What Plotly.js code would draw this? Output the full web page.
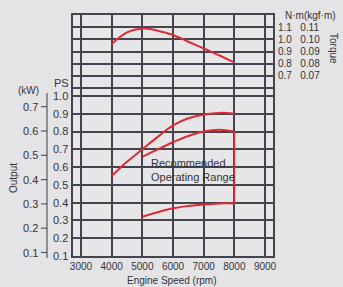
<!DOCTYPE html>
<html>
<head>
<meta charset="utf-8">
<script src="https://cdn.plot.ly/plotly-3.0.1.min.js"></script>
<style>
html,body{margin:0;padding:0;background:#e4e4e6;}
#chart{width:343px;height:287px;}
</style>
</head>
<body>
<div id="chart"></div>
<script>
// ---- data ----
const rpmTorque   = [4000, 4500, 5000, 5500, 6000, 6500, 7000, 7500, 8000];
const torqueNm    = [0.962, 1.058, 1.09, 1.071, 1.036, 0.98, 0.926, 0.869, 0.811];

const rpmMaxOut   = [4000, 4500, 5000, 5500, 6000, 6500, 7000, 7500, 8000];
const maxOutputPS = [0.55, 0.63, 0.70, 0.77, 0.835, 0.875, 0.895, 0.905, 0.90];

const rpmRange    = [5000, 5500, 6000, 6500, 7000, 7500, 8000];
const rangeUpper  = [0.658, 0.70, 0.74, 0.775, 0.80, 0.81, 0.80];
const rangeLower  = [0.321, 0.346, 0.368, 0.381, 0.39, 0.396, 0.396];

const rpmTicks    = [3000, 4000, 5000, 6000, 7000, 8000, 9000];
const psTicks     = [0.1, 0.2, 0.3, 0.4, 0.5, 0.6, 0.7, 0.8, 0.9, 1.0];
const kwTicks     = [0.1, 0.2, 0.3, 0.4, 0.5, 0.6, 0.7];
const torqueTicks = [0.6, 0.7, 0.8, 0.9, 1.0, 1.1];
const torqueKgfTicks = ['', '0.07', '0.08', '0.09', '0.10', '0.11'];

// kW scale as printed next to the PS scale (about 1.37 PS per kW on the sheet)
const kwToPs = k => 0.1 + (k - 0.0856) * 1.3667;

// ---- styling ----
const RED = '#dd2a35';
const GRID = '#44444e';
const AXC = '#55555c';
const TXT = '#333338';
const FONT = 'Liberation Sans, Arial, sans-serif';
const W = 343, H = 287, T = 15, B = 31;
const px = x => x / W;
const py = y => (H - B - y) / (H - T - B);

const torqueText = torqueTicks.map((v, i) =>
  i === 0 ? '' : v.toFixed(1) + '\u00a0\u00a0\u00a0' + torqueKgfTicks[i]);

const traces = [
  {x: rpmTorque, y: torqueNm, yaxis: 'y2', mode: 'lines',
   line: {color: RED, width: 2, shape: 'spline'}, hoverinfo: 'skip'},
  {x: rpmMaxOut, y: maxOutputPS, mode: 'lines',
   line: {color: RED, width: 2, shape: 'spline'}, hoverinfo: 'skip'},
  {x: rpmRange, y: rangeUpper, mode: 'lines',
   line: {color: RED, width: 2, shape: 'spline'}, hoverinfo: 'skip'},
  {x: rpmRange, y: rangeLower, mode: 'lines',
   line: {color: RED, width: 2, shape: 'spline'}, hoverinfo: 'skip'},
  {x: [rpmRange[rpmRange.length - 1], rpmRange[rpmRange.length - 1]],
   y: [rangeUpper[rangeUpper.length - 1], rangeLower[rangeLower.length - 1]],
   mode: 'lines', line: {color: RED, width: 1.6}, hoverinfo: 'skip'}
];

function ann(x, y, text, size, angle) {
  return {xref: 'paper', yref: 'paper', x: px(x), y: py(y), xanchor: 'center', yanchor: 'middle',
          text: text, showarrow: false, textangle: angle || 0, font: {size: size, color: TXT}};
}

// secondary kW scale: axis line, ticks and labels placed through the PS axis
const kwShapes = [
  {type: 'line', xref: 'paper', yref: 'paper', x0: px(47), x1: px(47), y0: py(93), y1: py(258),
   line: {color: AXC, width: 1.2}}
].concat(kwTicks.map(k => ({
  type: 'line', xref: 'paper', yref: 'y', x0: px(41), x1: px(47), y0: kwToPs(k), y1: kwToPs(k),
  line: {color: AXC, width: 1.2}
})));
const kwLabels = kwTicks.map(k => ({
  xref: 'paper', yref: 'y', x: px(40), y: kwToPs(k), xanchor: 'right', yanchor: 'middle',
  text: k.toFixed(1), showarrow: false, font: {size: 11, color: TXT}
}));

const layout = {
  width: W, height: H,
  margin: {l: 0, r: 0, t: T, b: B, pad: 0},
  paper_bgcolor: '#e4e4e6',
  plot_bgcolor: '#e6e6e8',
  showlegend: false,
  font: {family: FONT, color: TXT, size: 10},
  xaxis: {
    domain: [px(72.5), px(273)],
    range: [2723, 9261],
    tickvals: rpmTicks, ticktext: rpmTicks.map(String),
    showgrid: true, gridcolor: GRID, gridwidth: 2,
    showline: true, mirror: true, linecolor: GRID, linewidth: 2,
    ticks: '', zeroline: false,
    tickfont: {size: 10, color: TXT}
  },
  yaxis: {
    domain: [0, 1],
    range: [0.1, 1.4556],
    tickvals: psTicks, ticktext: psTicks.map(v => v.toFixed(1)),
    showgrid: true, gridcolor: GRID, gridwidth: 2,
    showline: true, mirror: true, linecolor: GRID, linewidth: 2,
    ticks: '', zeroline: false,
    tickfont: {size: 11, color: TXT}
  },
  yaxis2: {
    overlaying: 'y', side: 'right',
    range: [-0.781, 1.2],
    tickvals: torqueTicks, ticktext: torqueText,
    showgrid: true, gridcolor: GRID, gridwidth: 2,
    showline: false, zeroline: false, ticks: '',
    ticklabelstandoff: 4,
    tickfont: {size: 10, color: TXT}
  },
  shapes: kwShapes,
  annotations: [
    {xref: 'x', yref: 'y', x: 5220, y: 0.584, xanchor: 'left', yanchor: 'middle', align: 'left',
     text: 'Recommended<br>Operating Range', showarrow: false,
     font: {size: 11, color: TXT}},
    ann(29, 90, '(kW)', 10),
    ann(61, 83, 'PS', 11),
    ann(310, 15, 'N·m(kgf·m)', 10),
    ann(333, 48, 'Torque', 10, 90),
    ann(13, 178, 'Output', 10, -90),
    ann(172, 280, 'Engine Speed (rpm)', 10)
  ].concat(kwLabels)
};

Plotly.newPlot('chart', traces, layout, {staticPlot: true, displayModeBar: false});
</script>
</body>
</html>
